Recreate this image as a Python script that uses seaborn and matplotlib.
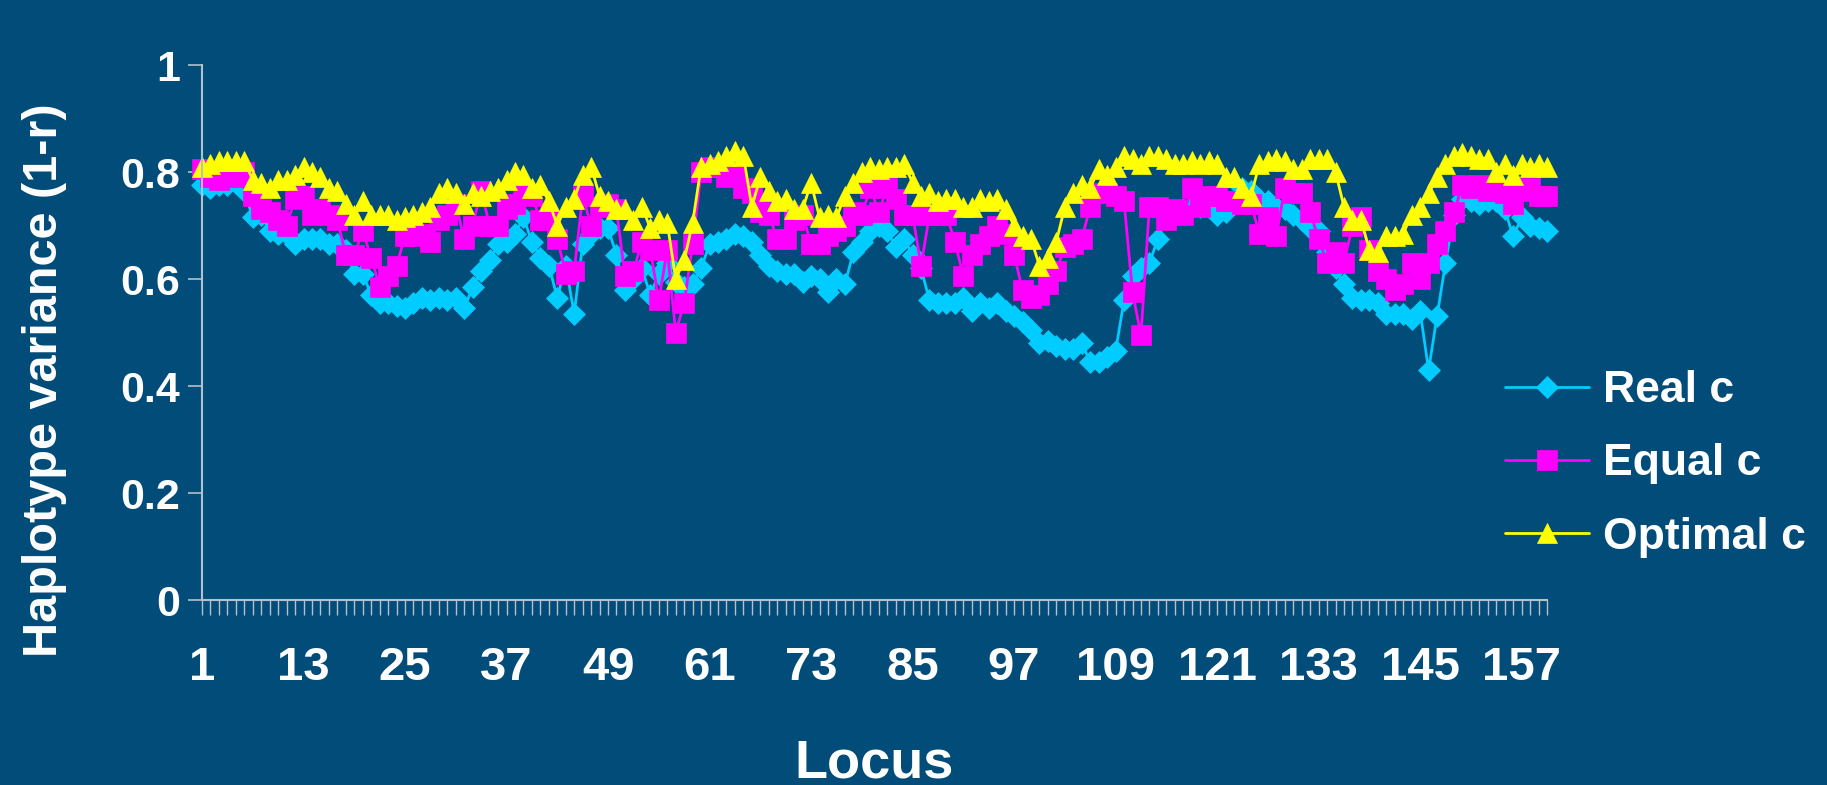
import matplotlib
matplotlib.use("Agg")
import matplotlib.pyplot as plt
import seaborn as sns
import pandas as pd
from matplotlib import font_manager

loci = list(range(1, 161))

real_c = [
    0.775, 0.77, 0.775, 0.775, 0.78, 0.765, 0.715, 0.72, 0.69, 0.685,
    0.685, 0.665, 0.675, 0.675, 0.675, 0.665, 0.665, 0.655, 0.61, 0.61,
    0.57, 0.555, 0.555, 0.55, 0.545, 0.555, 0.565, 0.56, 0.565, 0.56,
    0.565, 0.545, 0.585, 0.615, 0.635, 0.665, 0.67, 0.685, 0.715, 0.67,
    0.64, 0.625, 0.565, 0.625, 0.535, 0.665, 0.685, 0.695, 0.695, 0.645,
    0.58, 0.60, 0.62, 0.57, 0.61, 0.63, 0.595, 0.585, 0.59, 0.62,
    0.665, 0.67, 0.675, 0.685, 0.68, 0.67, 0.645, 0.625, 0.615, 0.61,
    0.61, 0.595, 0.605, 0.60, 0.575, 0.60, 0.59, 0.65, 0.67, 0.69,
    0.70, 0.69, 0.66, 0.675, 0.645, 0.62, 0.56, 0.555, 0.555, 0.555,
    0.565, 0.54, 0.555, 0.545, 0.555, 0.54, 0.53, 0.52, 0.505, 0.48,
    0.485, 0.475, 0.47, 0.47, 0.48, 0.445, 0.445, 0.455, 0.465, 0.56,
    0.605, 0.62, 0.63, 0.675, 0.715, 0.725, 0.73, 0.735, 0.735, 0.735,
    0.72, 0.725, 0.74, 0.77, 0.765, 0.75, 0.745, 0.735, 0.73, 0.72,
    0.71, 0.695, 0.69, 0.65, 0.62, 0.59, 0.565, 0.56, 0.56, 0.555,
    0.535, 0.535, 0.535, 0.525, 0.54, 0.43, 0.53, 0.63, 0.72, 0.75,
    0.745, 0.74, 0.745, 0.745, 0.73, 0.68, 0.715, 0.70, 0.695, 0.69,
]

equal_c = [
    0.805, 0.79, 0.785, 0.79, 0.79, 0.80, 0.755, 0.73, 0.725, 0.71,
    0.70, 0.75, 0.755, 0.72, 0.73, 0.72, 0.71, 0.645, 0.645, 0.69,
    0.64, 0.585, 0.605, 0.625, 0.68, 0.68, 0.685, 0.67, 0.71, 0.72,
    0.74, 0.675, 0.70, 0.765, 0.70, 0.70, 0.73, 0.74, 0.76, 0.755,
    0.71, 0.71, 0.675, 0.61, 0.615, 0.755, 0.70, 0.735, 0.74, 0.73,
    0.605, 0.615, 0.67, 0.655, 0.56, 0.655, 0.50, 0.555, 0.665, 0.80,
    0.81, 0.81, 0.79, 0.795, 0.77, 0.76, 0.725, 0.72, 0.675, 0.675,
    0.71, 0.72, 0.665, 0.665, 0.68, 0.69, 0.70, 0.725, 0.72, 0.77,
    0.725, 0.77, 0.75, 0.72, 0.72, 0.625, 0.72, 0.72, 0.72, 0.67,
    0.605, 0.645, 0.665, 0.68, 0.70, 0.685, 0.645, 0.58, 0.565, 0.57,
    0.59, 0.615, 0.66, 0.665, 0.675, 0.735, 0.76, 0.76, 0.755, 0.745,
    0.575, 0.495, 0.735, 0.735, 0.71, 0.73, 0.72, 0.77, 0.735, 0.755,
    0.755, 0.745, 0.745, 0.74, 0.74, 0.685, 0.715, 0.68, 0.77, 0.76,
    0.76, 0.725, 0.675, 0.63, 0.65, 0.63, 0.70, 0.715, 0.655, 0.615,
    0.60, 0.58, 0.59, 0.63, 0.60, 0.63, 0.665, 0.69, 0.725, 0.775,
    0.77, 0.775, 0.765, 0.765, 0.76, 0.74, 0.765, 0.77, 0.755, 0.755,
]

optimal_c = [
    0.81, 0.815, 0.82, 0.82, 0.82, 0.82, 0.785, 0.78, 0.77, 0.785,
    0.785, 0.795, 0.81, 0.80, 0.79, 0.77, 0.765, 0.74, 0.72, 0.745,
    0.72, 0.72, 0.72, 0.71, 0.715, 0.72, 0.725, 0.735, 0.76, 0.77,
    0.76, 0.74, 0.76, 0.755, 0.765, 0.77, 0.785, 0.80, 0.795, 0.77,
    0.775, 0.745, 0.70, 0.735, 0.75, 0.795, 0.81, 0.755, 0.745, 0.73,
    0.73, 0.71, 0.735, 0.695, 0.71, 0.705, 0.60, 0.635, 0.705, 0.81,
    0.815, 0.82, 0.83, 0.84, 0.83, 0.735, 0.79, 0.765, 0.745, 0.75,
    0.73, 0.73, 0.78, 0.715, 0.72, 0.715, 0.755, 0.78, 0.80, 0.81,
    0.805, 0.81, 0.81, 0.815, 0.78, 0.755, 0.76, 0.745, 0.75, 0.75,
    0.735, 0.735, 0.75, 0.745, 0.75, 0.73, 0.70, 0.68, 0.675, 0.625,
    0.64, 0.67, 0.735, 0.76, 0.775, 0.77, 0.805, 0.795, 0.81, 0.83,
    0.825, 0.815, 0.83, 0.83, 0.825, 0.815, 0.815, 0.82, 0.815, 0.82,
    0.815, 0.79, 0.79, 0.77, 0.755, 0.815, 0.82, 0.825, 0.82, 0.805,
    0.805, 0.825, 0.825, 0.825, 0.80, 0.735, 0.71, 0.71, 0.655, 0.65,
    0.68, 0.68, 0.685, 0.72, 0.735, 0.76, 0.79, 0.815, 0.83, 0.835,
    0.83, 0.825, 0.825, 0.80, 0.815, 0.795, 0.815, 0.81, 0.815, 0.81,
]

series_names = ["Real c", "Equal c", "Optimal c"]
x_label_ticks = [1, 13, 25, 37, 49, 61, 73, 85, 97, 109, 121, 133, 145, 157]
y_ticks = [0, 0.2, 0.4, 0.6, 0.8, 1]
y_tick_labels = ["0", "0.2", "0.4", "0.6", "0.8", "1"]

bg = "#014c79"
axis_col = "#b4c0cc"
styles = {
    "Real c": dict(color="#00ccff", marker="D", markersize=11),
    "Equal c": dict(color="#ff00ff", marker="s", markersize=14),
    "Optimal c": dict(color="#ffff00", marker="^", markersize=14),
}

sns.set_theme(style="white")
installed = {f.name for f in font_manager.fontManager.ttflist}
narrow = "Liberation Sans Narrow" if "Liberation Sans Narrow" in installed else "Liberation Sans"
plt.rcParams["font.family"] = ["Liberation Sans", "DejaVu Sans"]

df = pd.DataFrame({"Locus": loci, "Real c": real_c, "Equal c": equal_c, "Optimal c": optimal_c})

fig = plt.figure(figsize=(18.27, 7.85), dpi=100, facecolor=bg)
ax = fig.add_axes([202 / 1827, 1 - 600 / 785, 1345 / 1827, 535 / 785])
ax.set_facecolor(bg)

for name in series_names:
    st = styles[name]
    sns.lineplot(data=df, x="Locus", y=name, ax=ax, label=name, color=st["color"],
                 marker=st["marker"], markersize=st["markersize"],
                 markeredgecolor=st["color"], markeredgewidth=0.5, linewidth=2,
                 clip_on=False)

ax.set_xlim(1, 160)
ax.set_ylim(0, 1)
ax.set_xticks(loci)
ax.set_xticklabels([str(i) if i in x_label_ticks else "" for i in loci])
ax.set_yticks(y_ticks)
ax.set_yticklabels(y_tick_labels)
ax.set_xlabel("")
ax.set_ylabel("")
ax.grid(False)

for side in ["top", "right"]:
    ax.spines[side].set_visible(False)
for side in ["left", "bottom"]:
    ax.spines[side].set_color(axis_col)
    ax.spines[side].set_linewidth(1.5)

ax.tick_params(axis="x", direction="out", length=11, width=1, color=axis_col,
               labelcolor="white", pad=22, bottom=True)
ax.tick_params(axis="y", direction="out", length=10, width=1.2, color=axis_col,
               labelcolor="white", pad=6, left=True)
for lab in ax.get_xticklabels():
    lab.set_fontfamily([narrow, "DejaVu Sans"])
    lab.set_fontsize(34)
    lab.set_fontweight("bold")
for lab in ax.get_yticklabels():
    lab.set_fontsize(31)
    lab.set_fontweight("bold")

fig.text(45 / 1827, 1 - 380 / 785, "Haplotype variance (1-r)", rotation=90,
         ha="center", va="center", color="white", fontsize=35, fontweight="bold",
         family=[narrow, "DejaVu Sans"])
fig.text(874 / 1827, 1 - 777 / 785, "Locus", ha="center", va="baseline",
         color="white", fontsize=39, fontweight="bold")

handles, labels = ax.get_legend_handles_labels()
ax.get_legend().remove()
leg = fig.legend(handles, labels, loc="center left", bbox_to_anchor=(1505 / 1827, 1 - 464 / 785),
                 frameon=False, fontsize=32, handlelength=1.9, handletextpad=0.3,
                 labelspacing=0.72, borderpad=0, borderaxespad=0)
for t in leg.get_texts():
    t.set_color("white")
    t.set_fontweight("bold")

fig.savefig("out.png", dpi=100, facecolor=bg)
